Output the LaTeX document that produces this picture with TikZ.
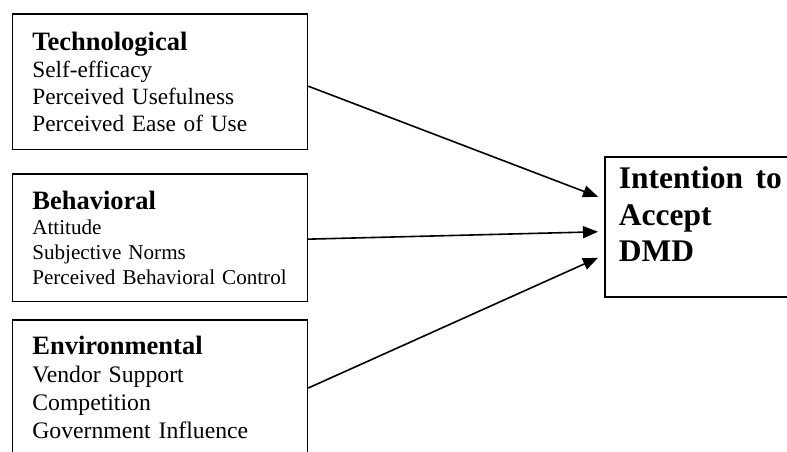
\documentclass[tikz,border=0pt]{standalone}
\usepackage{fontspec}
\setmainfont{Liberation Serif}
\usetikzlibrary{arrows.meta}
\newcommand{\hdtext}[1]{{\fontsize{26.5}{27}\selectfont\bfseries #1}}

\begin{document}
\begin{tikzpicture}[
  x=1pt, y=-1pt,
  >={Triangle[length=15pt,width=12pt]},
  factor/.style={rectangle, draw=black, line width=1.7pt, anchor=north west, align=left, text width=255pt, inner xsep=20pt},
  outcome/.style={rectangle, draw=black, line width=1.7pt, anchor=north west, align=left, text width=200pt, inner xsep=14pt, inner ysep=10pt, font=\fontsize{31.5}{36.5}\selectfont\bfseries},
  arrow/.style={->, line width=1.6pt}
]
\useasboundingbox (0,0) rectangle (787,452);
\node[factor, inner ysep=18pt, font=\fontsize{23.3}{27}\selectfont] (tech) at (11.5,13)
  {\hdtext{Technological}\\Self-efficacy\\Perceived Usefulness\\Perceived Ease of Use};
\node[factor, inner ysep=17pt, font=\fontsize{21.1}{25}\selectfont] (behav) at (11.5,173)
  {\hdtext{Behavioral}\\Attitude\\Subjective Norms\\\mbox{Perceived Behavioral Control}};
\node[factor, inner ysep=16pt, font=\fontsize{23.7}{28}\selectfont] (env) at (11.5,319)
  {\hdtext{Environmental}\\Vendor Support\\Competition\\Government Influence\rule[-10pt]{0pt}{1pt}};
\node[outcome] (intent) at (604,156)
  {Intention\hspace{0.4em}to\\Accept\\DMD\rule[-25pt]{0pt}{1pt}};
% links into the outcome
\draw[arrow] ([yshift=-4.5pt]tech.east) -- ([xshift=-6pt,yshift=30pt]intent.west);
\draw[arrow] ([yshift=-1.5pt]behav.east) -- ([xshift=-6pt,yshift=-5pt]intent.west);
\draw[arrow] ([yshift=4pt]env.east) -- ([xshift=-6pt,yshift=-31pt]intent.west);
\end{tikzpicture}
\end{document}
